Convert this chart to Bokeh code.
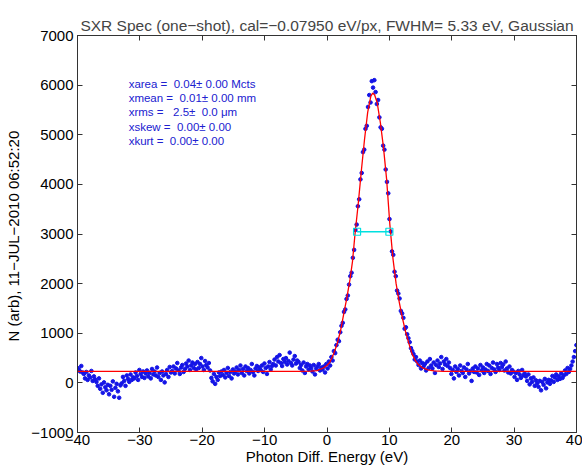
import numpy as np
from bokeh.plotting import figure
from bokeh.models import (LinearAxis, FixedTicker, ColumnDataSource, Range1d,
                          CustomLabelingPolicy, CustomJSTickFormatter)
from bokeh.embed import file_html
from bokeh.resources import INLINE
from bokeh.core.properties import value

# ---------------- data ----------------
title_text = "SXR Spec (one\u2212shot), cal=\u22120.07950 eV/px, FWHM= 5.33 eV, Gaussian"
x_label = "Photon Diff. Energy (eV)"
y_label = "N (arb),  11\u2212JUL\u22122010 06:52:20"

x_ticks = [-40, -30, -20, -10, 0, 10, 20, 30, 40]
y_ticks = [-1000, 0, 1000, 2000, 3000, 4000, 5000, 6000, 7000]

# measured spectrum, evenly sampled from -40 eV
spec_start = -40.0
spec_step = 0.2025
spec_counts = [
    300, 270, 230, 340, 210,
    180, 90, 220, 60, 150, 110, 240, 40, 130, 70,
    20, -60, 90, -120, -30, -200, 10, -90, -150, -40,
    -230, -60, -140, 30, -280, -100, -20, -170, -300, -50,
    -10, 120, 40, -60, 150, 80, 20, 170, 60, 110,
    90, 210, 140, 60, 260, 180, 120, 230, 100, 190,
    250, 130, 200, 90, 280, 170, 230, 150, 310, 120,
    200, 60, 230, 150, 10, 180, 260, 120, 320, 210,
    240, 330, 190, 290, 400, 250, 180, 310, 360, 220,
    280, 390, 330, 450, 260, 350, 410, 300, 380, 270,
    420, 300, 380, 500, 330, 260, 440, 360, 310, 400,
    250, 100, 30, 180, -20, 120, 60, 210, 140, 230,
    160, 260, 110, 200, 300, 140, 220, 90, 270, 190,
    230, 310, 170, 260, 350, 200, 280, 150, 330, 240,
    300, 190, 260, 380, 220, 150, 290, 340, 240, 310,
    260, 350, 220, 390, 300, 180, 330, 420, 270, 340,
    380, 470, 350, 520, 430, 560, 400, 340, 480, 420,
    500, 370, 440, 610, 400, 350, 470, 540, 390, 450,
    420, 300, 360, 250, 410, 200, 330, 380, 270, 350,
    300, 230, 360, 170, 290, 330, 380, 250, 310, 270,
    330, 210, 380, 290, 430, 350, 520, 450, 640, 600,
    760, 870, 840, 1020, 1150, 1210, 1430, 1480, 1690, 1760,
    1980, 2150, 2220, 2520, 2680, 3080, 3190, 3560, 3700, 4100,
    4230, 4650, 4700, 5120, 5180, 5560, 5800, 5650, 6080, 5950,
    6100, 5860, 5620, 5700, 5350, 5150, 5120, 4780, 4700, 4300,
    4050, 3820, 3300, 3050, 2650, 2580, 2240, 2150, 1860, 1800,
    1700, 1450, 1400, 1310, 1090, 1120, 980, 900, 820, 700,
    640, 580, 470, 520, 430, 360, 450, 290, 400, 330,
    380, 250, 430, 300, 480, 350, 290, 410, 200, 360,
    450, 320, 390, 520, 280, 430, 370, 480, 340, 410,
    300, 180, 260, 90, 330, 220, 280, 150, 350, 240,
    200, 310, 120, 270, 380, 190, 240, 40, 290, 220,
    330, 210, 290, 160, 360, 250, 310, 200, 270, 380,
    240, 350, 180, 300, 410, 270, 220, 380, 310, 260,
    400, 320, 370, 250, 430, 290, 210, 330, 190, 260,
    230, 120, 200, 60, 240, 170, 100, 260, 150, 190,
    130, 40, 170, -30, 90, 20, 110, -60, 50, -10,
    -80, 40, -150, 20, -40, 80, -110, 10, 60, -20,
    50, 140, 20, 110, 170, 60, 130, 80, 190, 100,
    150, 250, 180, 300, 220, 280, 350, 430, 520, 640,
    760,
]

# Gaussian fit curve
fit_x = [-40, -4.63, -2.6, -1.59, -0.58, -0.07, 0.44, 1.05, 1.66, 2.16, 2.67, 3.18,
         3.68, 4.09, 4.49, 5.0, 5.51, 6.01, 6.52, 7.03, 7.33, 7.64, 8.04, 8.55, 9.05,
         9.56, 10.07, 10.58, 11.08, 11.59, 12.1, 12.6, 13.11, 13.62, 14.12, 14.63,
         15.24, 16.15, 17.16, 18.68, 40]
fit_y = [230, 231, 236, 245, 300, 345, 410, 583, 800, 1045, 1380, 1715, 2080, 2450, 3000,
         3600, 4280, 4900, 5450, 5780, 5840, 5800, 5650, 5250, 4750, 4100, 3200, 2500,
         2000, 1620, 1300, 1030, 800, 590, 460, 370, 308, 262, 240, 232, 230]

# FWHM marker
fwhm_x = [4.82, 10.0]
fwhm_y = [3045, 3045]

# statistics text
NB = "\u00a0"
stats_lines = [
    "xarea =" + NB * 2 + "0.04\u00b1" + NB + "0.00 Mcts",
    "xmean =" + NB * 2 + "0.01\u00b1" + NB + "0.00 mm",
    "xrms =" + NB * 3 + "2.5\u00b1" + NB * 2 + "0.0 \u03bcm",
    "xskew =" + NB * 2 + "0.00\u00b1" + NB + "0.00",
    "xkurt =" + NB * 2 + "0.00\u00b1" + NB + "0.00",
]
stats_x = -31.8
stats_y = [6030, 5745, 5455, 5165, 4880]

# ---------------- figure ----------------
FONT = "Liberation Sans"
spec_x = [spec_start + i * spec_step for i in range(len(spec_counts))]

p = figure(width=582, height=468, output_backend="svg", toolbar_location=None,
           x_range=Range1d(-40, 40), y_range=Range1d(-1000, 7000),
           min_border_left=77, min_border_right=6, min_border_top=35, min_border_bottom=36)
p.title.text = title_text
p.title.text_font = FONT
p.title.text_font_size = "15.5px"
p.title.text_font_style = "normal"
p.title.align = "center"
p.title.offset = 0
p.title.standoff = 4

p.xgrid.visible = False
p.ygrid.visible = False
p.outline_line_color = "#333333"
p.background_fill_color = "white"
p.border_fill_color = "white"

def style_axis(ax):
    ax.axis_line_color = "#333333"
    ax.major_tick_line_color = "#333333"
    ax.major_tick_in = 5
    ax.major_tick_out = 0
    ax.minor_tick_line_color = None
    ax.major_label_text_font = FONT
    ax.major_label_text_font_size = "15px"
    ax.major_label_text_color = "black"
    ax.axis_label_text_font = FONT
    ax.axis_label_text_font_size = "15px"
    ax.axis_label_text_font_style = "normal"
    ax.axis_label_text_color = "black"
    ax.major_label_standoff = 3

p.xaxis.ticker = FixedTicker(ticks=x_ticks)
p.yaxis.ticker = FixedTicker(ticks=y_ticks)
p.xaxis.major_label_overrides = {t: str(t).replace("-", "\u2212") for t in x_ticks}
p.yaxis.major_label_overrides = {t: str(t).replace("-", "\u2212") for t in y_ticks}
style_axis(p.xaxis[0])
style_axis(p.yaxis[0])
p.xaxis.axis_label = x_label
p.yaxis.axis_label = y_label
p.xaxis.major_label_standoff = 2
p.xaxis.axis_label_standoff = 0
p.yaxis.major_label_standoff = 4
p.yaxis.axis_label_standoff = 6

def mirror_axis(ticks):
    ax = LinearAxis(ticker=FixedTicker(ticks=ticks),
                    formatter=CustomJSTickFormatter(code="return ''"),
                    major_label_policy=CustomLabelingPolicy(code="""
                        for (const i of [...indices]) indices.unset(i)
                        return indices
                    """))
    style_axis(ax)
    ax.major_label_standoff = 0
    return ax

p.add_layout(mirror_axis(x_ticks), "above")
p.add_layout(mirror_axis(y_ticks), "right")

src = ColumnDataSource(dict(x=spec_x, y=spec_counts))
p.scatter("x", "y", source=src, size=3.6, color="#1414e6", marker="circle")
p.line(fit_x, fit_y, color="#ff0000", line_width=1.3)
p.line(fwhm_x, fwhm_y, color="#00e0e0", line_width=1.3)
p.scatter(fwhm_x, fwhm_y, marker="square", size=7, fill_color=None,
          line_color="#00e0e0", line_width=1.2)

p.text(x=[stats_x] * len(stats_lines), y=stats_y, text=stats_lines,
       text_font=value(FONT), text_font_size="11.5px", text_color="#2020d0",
       text_baseline="middle", text_align="left")

open("out.html", "w").write(file_html(p, INLINE))
